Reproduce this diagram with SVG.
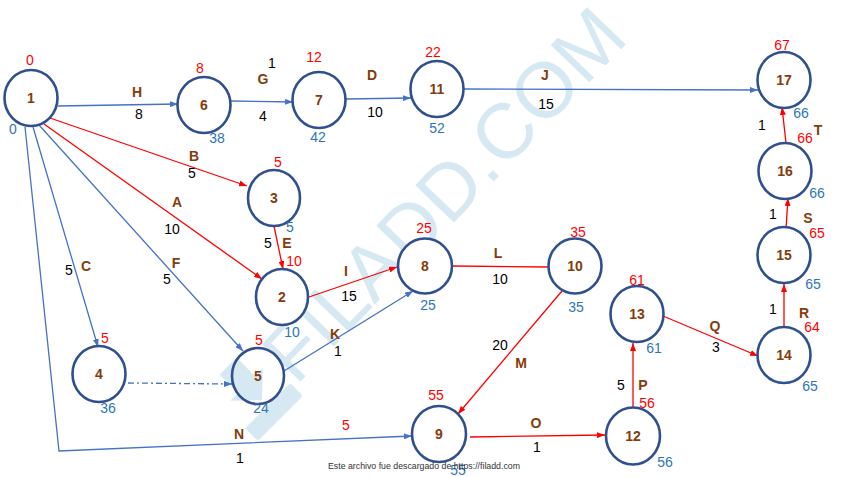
<svg xmlns="http://www.w3.org/2000/svg" width="848" height="477" viewBox="0 0 848 477">
<style>
text{font-family:"Liberation Sans",Arial,sans-serif;}
.node ellipse{fill:#fff;stroke:#2F4F8F;stroke-width:2.6;}
.nl{font-size:14px;font-weight:bold;fill:#843C0C;text-anchor:middle;}
.el{font-size:14px;font-weight:bold;fill:#843C0C;text-anchor:middle;}
.r{font-size:14px;fill:#FF0000;text-anchor:middle;}
.b{font-size:14px;fill:#2E75B6;text-anchor:middle;}
.k{font-size:14px;fill:#000;text-anchor:middle;}
.eb{fill:none;stroke:#4472C4;stroke-width:1.3;}
.er{fill:none;stroke:#FF0000;stroke-width:1.3;}
</style>
<defs>
<marker id="ab" viewBox="0 0 8 6" refX="8" refY="3" markerWidth="8" markerHeight="6" markerUnits="userSpaceOnUse" orient="auto"><path d="M0,0 L8,3 L0,6 z" fill="#4472C4"/></marker>
<marker id="ar" viewBox="0 0 8 6" refX="8" refY="3" markerWidth="8" markerHeight="6" markerUnits="userSpaceOnUse" orient="auto"><path d="M0,0 L8,3 L0,6 z" fill="#FF0000"/></marker>
</defs>
<rect width="848" height="477" fill="#fff"/>
<g id="watermark" fill="#D6E9F2">
<text x="296" y="386" transform="rotate(-46 296 386)" font-size="78">FILADD.COM</text>
<g transform="rotate(-45 262 400)">
<rect x="230" y="408" width="64" height="18" rx="3"/>
<polygon points="250,352 274,352 274,378 285,378 262,400 239,378 250,378"/>
</g>
</g>
<g id="connectors">
<line class="eb" x1="58" y1="106" x2="178" y2="104" marker-end="url(#ab)"/>
<line class="eb" x1="231" y1="101" x2="293" y2="102" marker-end="url(#ab)"/>
<line class="eb" x1="346" y1="99" x2="411" y2="98" marker-end="url(#ab)"/>
<line class="eb" x1="464" y1="89" x2="758" y2="90" marker-end="url(#ab)"/>
<line class="er" x1="50" y1="118" x2="247" y2="186" marker-end="url(#ar)"/>
<line class="er" x1="44" y1="124" x2="262" y2="279" marker-end="url(#ar)"/>
<line class="eb" x1="39" y1="125" x2="243" y2="351" marker-end="url(#ab)"/>
<line class="eb" x1="33" y1="127" x2="98" y2="347" marker-end="url(#ab)"/>
<polyline class="eb" points="25,127 59,451 412,436" marker-end="url(#ab)"/>
<line class="er" x1="274" y1="226" x2="283" y2="269" marker-end="url(#ar)"/>
<line class="er" x1="309" y1="297" x2="397" y2="267" marker-end="url(#ar)"/>
<line class="eb" x1="284" y1="371" x2="413" y2="291" marker-end="url(#ab)"/>
<line class="eb" x1="128" y1="383" x2="232" y2="384" stroke-dasharray="6 3 2 3" marker-end="url(#ab)"/>
<line class="er" x1="453" y1="266" x2="548" y2="267"/>
<line class="er" x1="562" y1="291" x2="458" y2="414" marker-end="url(#ar)"/>
<line class="er" x1="470" y1="437" x2="605" y2="435" marker-end="url(#ar)"/>
<line class="er" x1="633" y1="408" x2="633" y2="343" marker-end="url(#ar)"/>
<line class="er" x1="663" y1="316" x2="758" y2="356" marker-end="url(#ar)"/>
<line class="er" x1="784" y1="328" x2="784" y2="284" marker-end="url(#ar)"/>
<line class="er" x1="786" y1="229" x2="788" y2="198" marker-end="url(#ar)"/>
<line class="er" x1="786" y1="143" x2="782" y2="107" marker-end="url(#ar)"/>
</g>
<g id="edge-labels">
<text class="el" x="137" y="97">H</text><text class="k" x="139" y="119">8</text>
<text class="el" x="263" y="84">G</text><text class="k" x="272" y="68">1</text><text class="k" x="263" y="121">4</text>
<text class="el" x="372" y="80">D</text><text class="k" x="375" y="117">10</text>
<text class="el" x="545" y="80">J</text><text class="k" x="546" y="109">15</text>
<text class="el" x="194" y="161">B</text><text class="k" x="192" y="178">5</text>
<text class="el" x="177" y="207">A</text><text class="k" x="172" y="234">10</text>
<text class="el" x="176" y="268">F</text><text class="k" x="167" y="284">5</text>
<text class="el" x="86" y="271">C</text><text class="k" x="69" y="275">5</text>
<text class="el" x="239" y="439">N</text><text class="k" x="240" y="463">1</text><text class="r" x="346" y="430">5</text>
<text class="el" x="287" y="248">E</text><text class="k" x="268" y="248">5</text>
<text class="el" x="346" y="276">I</text><text class="k" x="349" y="301">15</text>
<text class="el" x="335" y="339">K</text><text class="k" x="338" y="356">1</text>
<text class="el" x="498" y="258">L</text><text class="k" x="500" y="284">10</text>
<text class="el" x="521" y="368">M</text><text class="k" x="500" y="350">20</text>
<text class="el" x="536" y="428">O</text><text class="k" x="537" y="452">1</text>
<text class="el" x="643" y="390">P</text><text class="k" x="621" y="390">5</text>
<text class="el" x="715" y="331">Q</text><text class="k" x="716" y="352">3</text>
<text class="el" x="804" y="318">R</text><text class="k" x="773" y="314">1</text>
<text class="el" x="808" y="223">S</text><text class="k" x="773" y="219">1</text>
<text class="el" x="818" y="135">T</text><text class="k" x="762" y="130">1</text>
</g>
<g id="n1" class="node"><ellipse cx="31" cy="98" rx="26.5" ry="28"/><text class="nl" x="31" y="103">1</text><text class="r" x="30" y="65">0</text><text class="b" x="13" y="134">0</text></g>
<g id="n6" class="node"><ellipse cx="204" cy="105" rx="26.5" ry="28"/><text class="nl" x="204" y="110">6</text><text class="r" x="200" y="73">8</text><text class="b" x="217" y="143">38</text></g>
<g id="n7" class="node"><ellipse cx="319" cy="100" rx="26.5" ry="28"/><text class="nl" x="319" y="105">7</text><text class="r" x="314" y="62">12</text><text class="b" x="318" y="142">42</text></g>
<g id="n11" class="node"><ellipse cx="437" cy="89" rx="26.5" ry="28"/><text class="nl" x="437" y="94">11</text><text class="r" x="433" y="57">22</text><text class="b" x="437" y="133">52</text></g>
<g id="n17" class="node"><ellipse cx="784" cy="80" rx="26.5" ry="28"/><text class="nl" x="784" y="85">17</text><text class="r" x="782" y="50">67</text><text class="b" x="801" y="118">66</text></g>
<g id="n16" class="node"><ellipse cx="785" cy="171" rx="26.5" ry="28"/><text class="nl" x="785" y="176">16</text><text class="r" x="805" y="143">66</text><text class="b" x="817" y="198">66</text></g>
<g id="n15" class="node"><ellipse cx="784" cy="255" rx="26.5" ry="28"/><text class="nl" x="784" y="260">15</text><text class="r" x="817" y="238">65</text><text class="b" x="813" y="289">65</text></g>
<g id="n14" class="node"><ellipse cx="784" cy="355" rx="26.5" ry="28"/><text class="nl" x="784" y="360">14</text><text class="r" x="812" y="332">64</text><text class="b" x="810" y="391">65</text></g>
<g id="n13" class="node"><ellipse cx="637" cy="314" rx="26.5" ry="28"/><text class="nl" x="637" y="319">13</text><text class="r" x="637" y="285">61</text><text class="b" x="654" y="353">61</text></g>
<g id="n12" class="node"><ellipse cx="633" cy="436" rx="27" ry="28.5"/><text class="nl" x="633" y="441">12</text><text class="r" x="647" y="408">56</text><text class="b" x="665" y="467">56</text></g>
<g id="n9" class="node"><ellipse cx="439" cy="434" rx="27" ry="28"/><text class="nl" x="439" y="439">9</text><text class="r" x="436" y="400">55</text><text class="b" x="458" y="475">55</text></g>
<g id="n10" class="node"><ellipse cx="575" cy="266" rx="26.5" ry="27.5"/><text class="nl" x="575" y="271">10</text><text class="r" x="578" y="237">35</text><text class="b" x="576" y="312">35</text></g>
<g id="n8" class="node"><ellipse cx="425" cy="266" rx="27" ry="27.5"/><text class="nl" x="425" y="271">8</text><text class="r" x="424" y="233">25</text><text class="b" x="428" y="310">25</text></g>
<g id="n3" class="node"><ellipse cx="274" cy="198" rx="26" ry="28"/><text class="nl" x="274" y="203">3</text><text class="r" x="278" y="167">5</text><text class="b" x="290" y="232">5</text></g>
<g id="n2" class="node"><ellipse cx="282" cy="297" rx="26" ry="28"/><text class="nl" x="282" y="302">2</text><text class="r" x="294" y="266">10</text><text class="b" x="292" y="337">10</text></g>
<g id="n5" class="node"><ellipse cx="258" cy="376" rx="26" ry="28" fill-opacity="0"/><text class="nl" x="258" y="381">5</text><text class="r" x="259" y="345">5</text><text class="b" x="261" y="413">24</text></g>
<g id="n4" class="node"><ellipse cx="99" cy="374" rx="26.5" ry="28"/><text class="nl" x="99" y="379">4</text><text class="r" x="105" y="343">5</text><text class="b" x="108" y="413">36</text></g>
<text x="424" y="469" font-size="9" fill="#333" text-anchor="middle" textLength="192" lengthAdjust="spacingAndGlyphs">Este archivo fue descargado de https://filadd.com</text>
</svg>
